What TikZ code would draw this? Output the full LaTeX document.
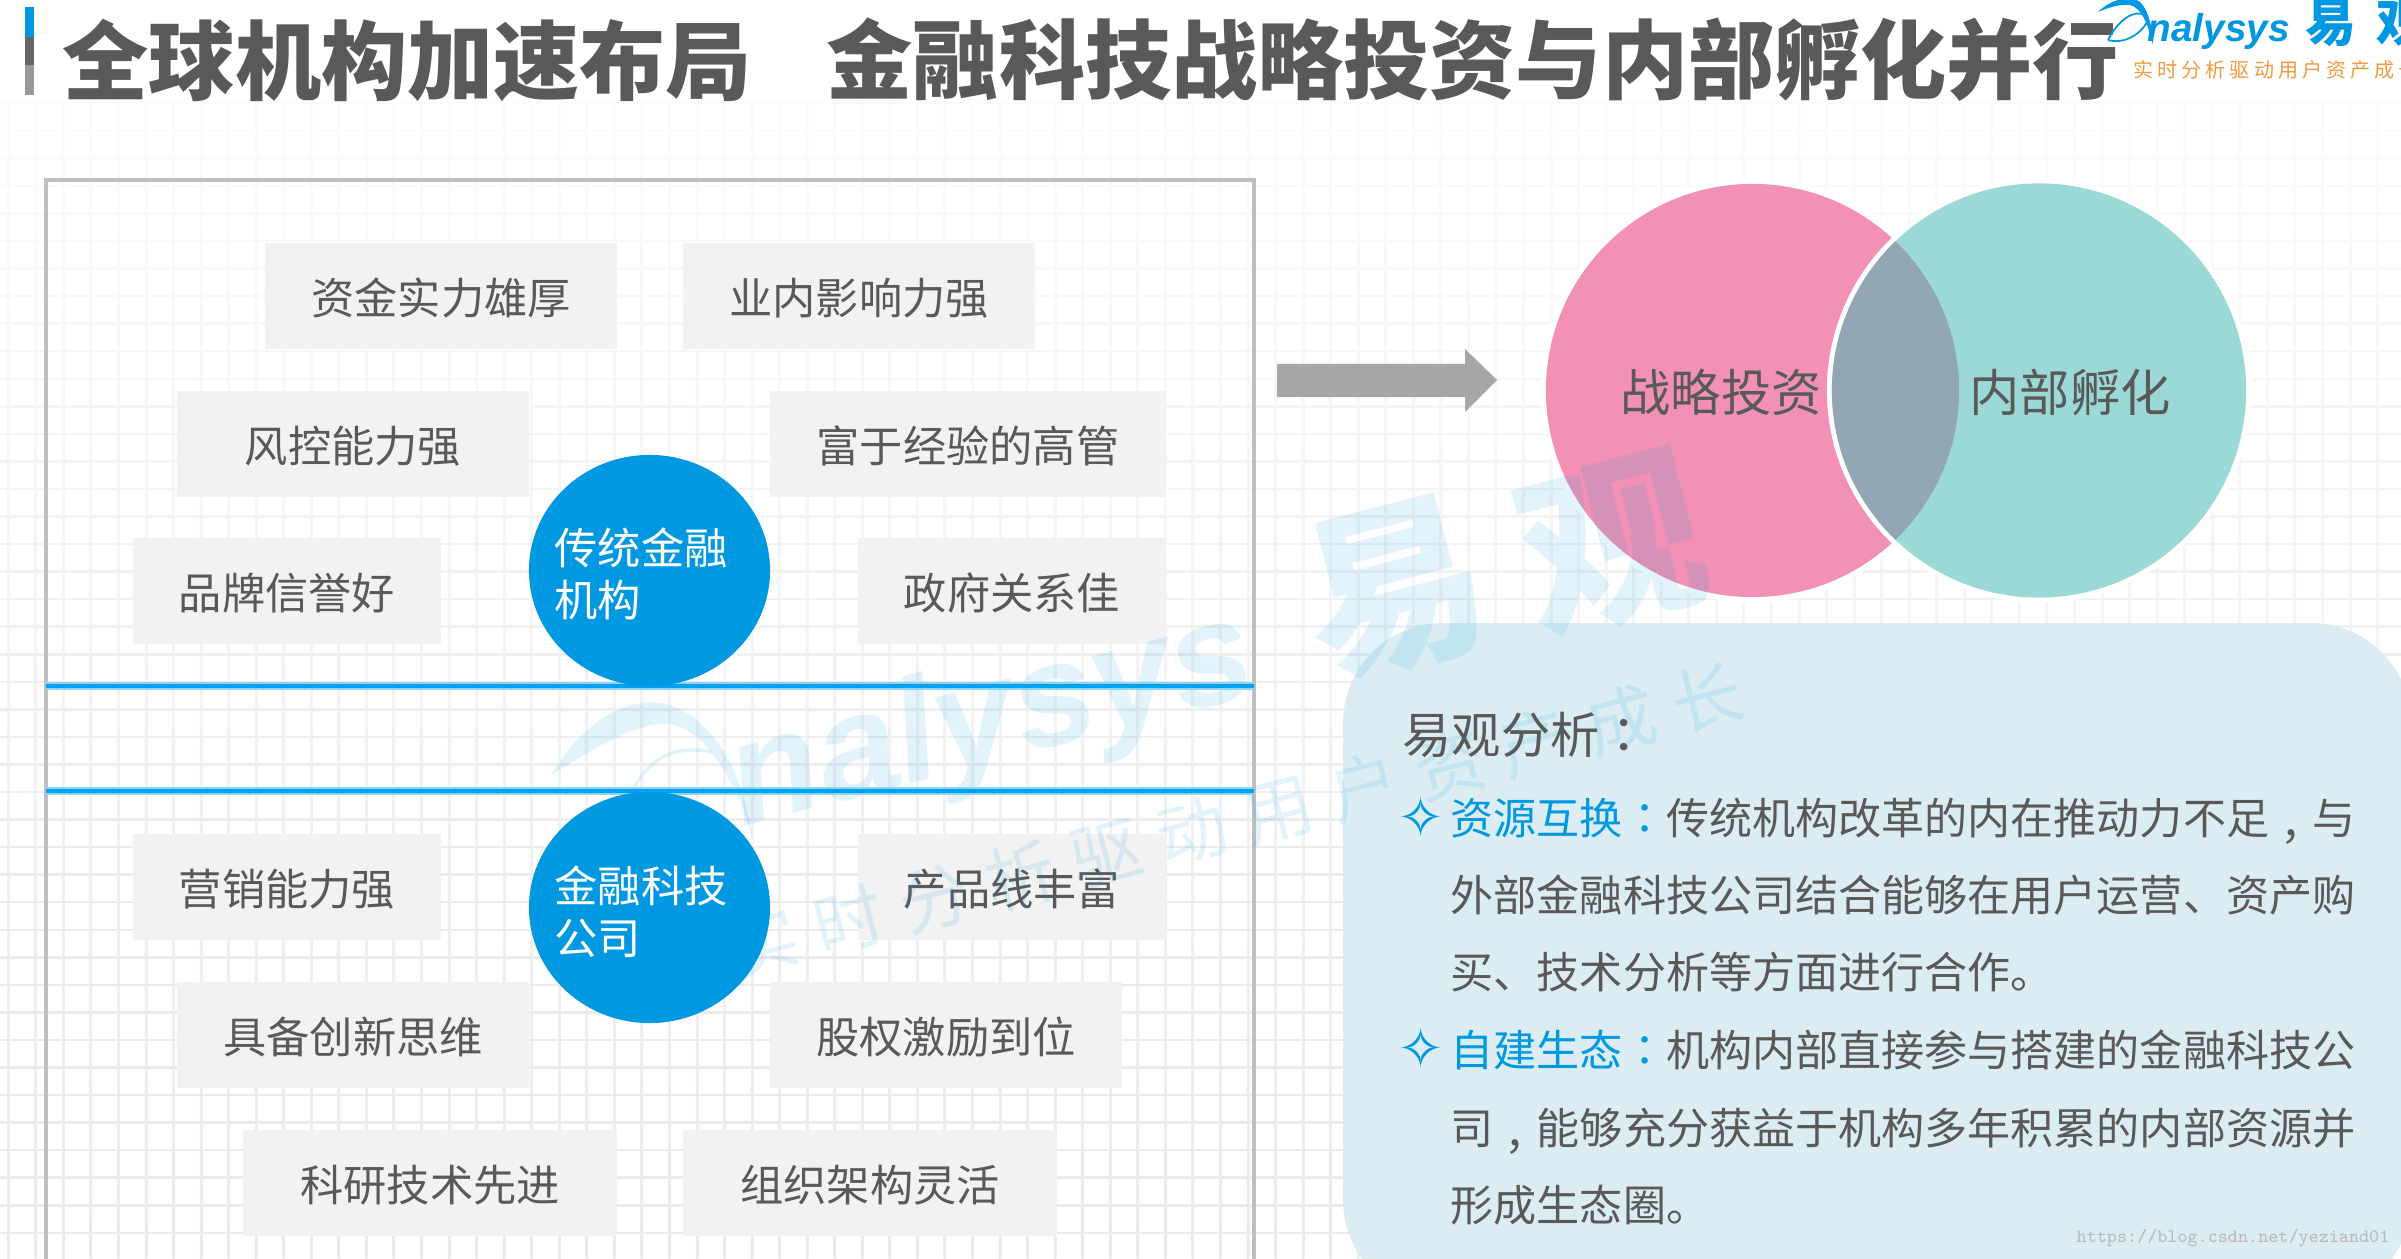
\documentclass[tikz,border=0pt]{standalone}
\usepackage{fontspec}
\usepackage{xcolor}
\usetikzlibrary{calc,shapes.geometric}
\newfontfamily\cjk{Noto Sans CJK SC}
\newfontfamily\cjkheavy{Noto Sans CJK SC Black}
\newfontfamily\cjkmid{Noto Sans CJK TC}
\newfontfamily\logofont{Liberation Sans}
\newfontfamily\symfont{DejaVu Sans}
\newcommand{\midcomma}{\smash{\raisebox{-0.4em}{\cjkmid，}}}
\definecolor{inkgray}{HTML}{595959}
\definecolor{boxgray}{HTML}{F2F2F2}
\definecolor{framegray}{HTML}{BFBFBF}
\definecolor{gridgray}{HTML}{EBEBEB}
\definecolor{bluemain}{HTML}{0098E0}
\definecolor{blueline}{HTML}{00A2F2}
\definecolor{bluehalo}{HTML}{8FD4F5}
\definecolor{arrowgray}{HTML}{A6A6A6}
\definecolor{vennpink}{HTML}{F291B5}
\definecolor{vennteal}{HTML}{9BD9D6}
\definecolor{vennlens}{HTML}{93A6B3}
\definecolor{panelblue}{HTML}{DBEDF3}
\definecolor{logoorange}{HTML}{F39A3C}
\tikzset{
  featbox/.style={fill=boxgray,inner sep=0pt,minimum height=1.055cm,text=inkgray,
    text height=0.43cm,text depth=0.07cm,font=\cjk\fontsize{12.3}{14.8}\selectfont},
  orgdisc/.style={ellipse,fill=bluemain,inner sep=0pt,minimum width=2.41cm,minimum height=2.31cm},
  orglabel/.style={anchor=west,inner sep=0pt,align=left,text=white,
    font=\cjk\fontsize{12.3}{14.8}\selectfont},
  titletext/.style={anchor=west,inner sep=0pt,text=inkgray,
    font=\cjkheavy\fontsize{24.5}{28}\selectfont},
  vennlabel/.style={inner sep=0pt,text=inkgray,font=\cjk\fontsize{14.3}{17}\selectfont},
  paneltext/.style={anchor=west,inner sep=0pt,text=inkgray,
    font=\cjk\fontsize{12.25}{14.8}\selectfont},
  wmark/.style={text=bluemain,text opacity=0.115,inner sep=0pt,rotate=14.5},
  bulletmark/.style={inner sep=0pt,text=bluemain,font=\symfont\fontsize{16}{18}\selectfont}
}
\begin{document}
\begin{tikzpicture}[x=0.01cm,y=-0.01cm]
  \useasboundingbox (0,0) rectangle (2401,1258);
  \clip (0,0) rectangle (2401,1258);
  \fill[white] (0,0) rectangle (2401,1258);

  % background grid, stronger towards the bottom
  \foreach \gx in {7,34.55,...,2401}
    \shade[top color=gridgray!18!white,bottom color=gridgray] (\gx,100) rectangle ($(\gx,1258)+(2.5,0)$);
  \foreach \gy in {102,129.55,...,1258}{
    \pgfmathsetmacro{\gmix}{min(100,18+0.1*(\gy-100))}
    \fill[gridgray!\gmix!white] (0,\gy) rectangle (2401,\gy+2.5);
  }

  % title bar and title
  \fill[bluemain] (25,7) rectangle (34,37);
  \fill[black!60] (25,37) rectangle (34,65);
  \fill[black!40] (25,65) rectangle (34,95);
  \node[titletext] (title1) at (62,60) {全球机构加速布局};
  \node[titletext] (title2) at (826,60) {金融科技战略投资与内部孵化并行};

  % left frame
  \draw[framegray,line width=1.3pt] (46,1300) -- (46,180) -- (1254,180) -- (1254,1300);

  % upper boxes
  \node[featbox,minimum width=3.52cm] (ziJin) at (441,296) {资金实力雄厚};
  \node[featbox,minimum width=3.52cm] (yeNei) at (859,296) {业内影响力强};
  \node[featbox,minimum width=3.52cm] (fengKong) at (353,444) {风控能力强};
  \node[featbox,minimum width=3.96cm] (gaoGuan) at (968,444) {富于经验的高管};
  \node[featbox,minimum width=3.08cm] (pinPai) at (287,591) {品牌信誉好};
  \node[featbox,minimum width=3.07cm] (zhengFu) at (1012,591) {政府关系佳};

  % lower boxes
  \node[featbox,minimum width=3.08cm] (yingXiao) at (287,887) {营销能力强};
  \node[featbox,minimum width=3.08cm] (chanPin) at (1012,887) {产品线丰富};
  \node[featbox,minimum width=3.52cm] (chuangXin) at (353,1035) {具备创新思维};
  \node[featbox,minimum width=3.52cm] (guQuan) at (946,1035) {股权激励到位};
  \node[featbox,minimum width=3.74cm] (keYan) at (430,1183) {科研技术先进};
  \node[featbox,minimum width=3.74cm] (zuZhi) at (870,1183) {组织架构灵活};

  % arrow
  \fill[arrowgray] (1277,364) -- (1465,364) -- (1465,349) -- (1497,380) -- (1465,412) -- (1465,397) -- (1277,397) -- cycle;

  % venn
  \coordinate (P) at (1752.5,390.5);
  \coordinate (T) at (2039,390.5);
  \fill[white] (P) circle (2.12cm);
  \fill[vennpink] (P) circle (2.065cm);
  \fill[white] (T) circle (2.12cm);
  \fill[vennteal] (T) circle (2.07cm);
  \begin{scope}
    \clip (P) circle (2.065cm);
    \fill[vennlens] (T) circle (2.07cm);
  \end{scope}

  % panel
  \fill[panelblue,rounded corners=1cm] (1343,623) rectangle (2411,1300);

  % watermark
  \node[wmark,font=\logofont\bfseries\itshape\fontsize{41.5}{44}\selectfont,anchor=base west] (wmName) at (742,827) {nalysys};
  \node[wmark,font=\cjk\bfseries\fontsize{52}{52}\selectfont] (wmYi) at (1395,590) {易};
  \node[wmark,font=\cjk\bfseries\fontsize{52}{52}\selectfont] (wmGuan) at (1612,545) {观};
  \node[wmark,font=\cjk\fontsize{20}{20}\selectfont\addfontfeature{LetterSpace=26}] (wmSlogan) at (1235,820) {实时分析驱动用户资产成长};
  \fill[bluemain,opacity=0.115] (551,775) .. controls (590,710) and (640,695) .. (670,705)
    .. controls (725,725) and (745,790) .. (752,835) .. controls (735,780) and (700,715) .. (655,725)
    .. controls (620,730) and (585,755) .. (551,775) -- cycle;
  \draw[bluemain,opacity=0.115,line width=1pt] (633,790) .. controls (650,755) and (680,745) .. (712,752);

  % blue lines and discs
  \draw[bluehalo,line width=2.2pt] (46,686) -- (1254,686);
  \draw[blueline,line width=1.3pt] (46,686) -- (1254,686);
  \draw[bluehalo,line width=2.2pt] (46,791) -- (1254,791);
  \draw[blueline,line width=1.3pt] (46,791) -- (1254,791);
  \node[orgdisc] (tradDisc) at (649.5,570.5) {};
  \node[orgdisc] (fintechDisc) at (649.5,907.5) {};
  \node[orglabel] (tradLabel) at (554,574) {传统金融\\机构};
  \node[orglabel] (fintechLabel) at (554,912) {金融科技\\公司};

  % venn labels
  \node[vennlabel] (touZi) at (1721,392) {战略投资};
  \node[vennlabel] (fuHua) at (2070,392) {内部孵化};

  % panel text
  \node[paneltext,font=\cjk\fontsize{14}{17}\selectfont] (panelHead) at (1402,735) {易观分析{\cjkmid：}};
  \node[bulletmark] (bulletA) at (1421,817) {✧};
  \node[paneltext] (lineA) at (1450,818.5) {{\color{bluemain}资源互换{\cjkmid：}}传统机构改革的内在推动力不足\midcomma 与};
  \node[paneltext] (lineB) at (1450,895.5) {外部金融科技公司结合能够在用户运营、资产购};
  \node[paneltext] (lineC) at (1450,972.5) {买、技术分析等方面进行合作。};
  \node[bulletmark] (bulletB) at (1421,1048) {✧};
  \node[paneltext] (lineD) at (1450,1049.5) {{\color{bluemain}自建生态{\cjkmid：}}机构内部直接参与搭建的金融科技公};
  \node[paneltext] (lineE) at (1450,1128.5) {司\midcomma 能够充分获益于机构多年积累的内部资源并};
  \node[paneltext] (lineF) at (1450,1205.5) {形成生态圈。};

  % logo
  \fill[bluemain] (2098,12) .. controls (2110,0) and (2130,-6) .. (2140,2) .. controls (2150,12) and (2152,30) .. (2153,45)
    .. controls (2148,25) and (2142,8) .. (2130,5) .. controls (2118,4) and (2108,8) .. (2098,12) -- cycle;
  \draw[bluemain,line width=0.5pt] (2108,40) .. controls (2118,20) and (2135,8) .. (2146,16);
  \draw[bluemain,line width=0.5pt] (2108,40) .. controls (2120,44) and (2138,38) .. (2147,22);
  \node[anchor=base west,inner sep=0pt,text=bluemain,font=\logofont\bfseries\itshape\fontsize{11}{12}\selectfont] (logoName) at (2147,42) {nalysys};
  \node[anchor=center,inner sep=0pt,text=bluemain,font=\cjk\bfseries\fontsize{14.5}{15}\selectfont] (logoYi) at (2331,23) {易};
  \node[anchor=center,inner sep=0pt,text=bluemain,font=\cjk\bfseries\fontsize{14.5}{15}\selectfont] (logoGuan) at (2402,23) {观};
  \node[anchor=west,inner sep=0pt,text=logoorange,font=\cjk\fontsize{5.7}{7}\selectfont\addfontfeature{LetterSpace=20}] (logoSlogan) at (2133,70) {实时分析驱动用户资产成长};

  % source line
  \node[anchor=east,inner sep=0pt,text=black!27,font=\ttfamily\fontsize{5.4}{6}\selectfont] (srcUrl) at (2390,1238) {https://blog.csdn.net/yeziand01};
\end{tikzpicture}
\end{document}
